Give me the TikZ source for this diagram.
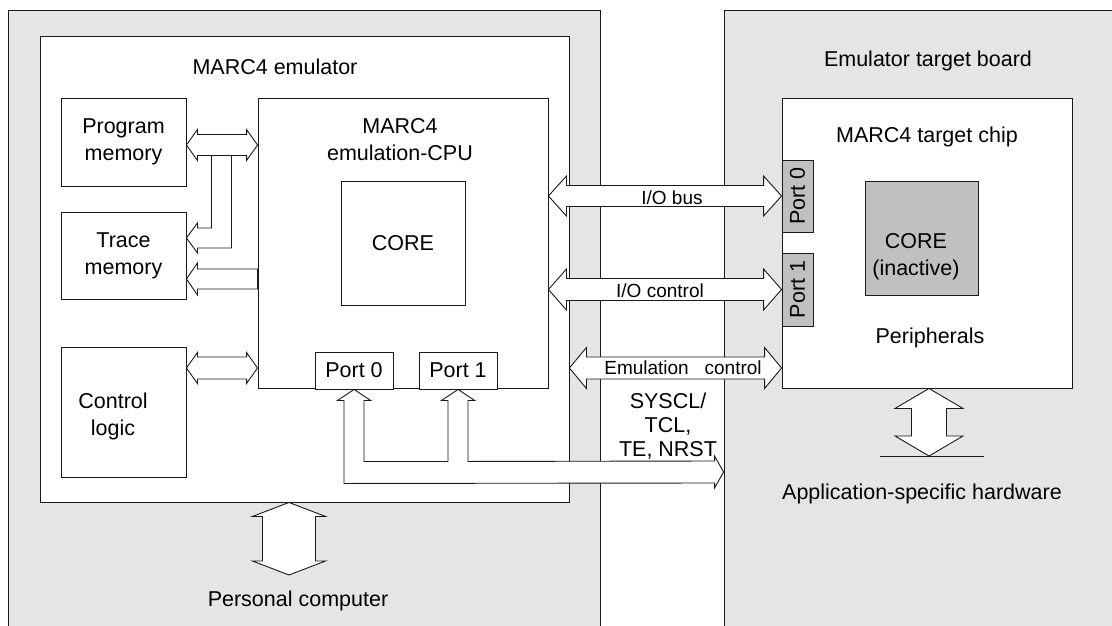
\documentclass[tikz,border=0pt]{standalone}
\usepackage{fontspec}
\setmainfont{Liberation Sans}
\usetikzlibrary{calc}
\definecolor{Ink}{HTML}{1A1A1A}
\definecolor{Panel}{HTML}{E5E5E5}
\definecolor{Chip}{HTML}{C0C0C0}
\tikzset{
  panel/.style={rectangle,draw=Ink,fill=Panel,line width=.9pt,inner sep=0pt},
  blk/.style={rectangle,draw=Ink,fill=white,line width=.9pt,inner sep=0pt,font=\fontsize{21.5}{27}\selectfont,align=center},
  greyblk/.style={blk,fill=Chip},
  bus/.style={draw=Ink,fill=white,line width=.9pt,line join=miter},
  txt/.style={font=\fontsize{21.5}{27}\selectfont,align=center,inner sep=0pt},
  tighttxt/.style={txt,font=\fontsize{21.5}{24}\selectfont},
  buslab/.style={font=\fontsize{19}{23}\selectfont,inner sep=0pt}
}
% double block arrow, left/right end, half body, half head, head length
\newcommand\hbus[5]{\draw[bus] (#1) -- ($(#1)+(#5,-#4)$) -- ($(#1)+(#5,-#3)$) -- ($(#2)+(-#5,-#3)$) -- ($(#2)+(-#5,-#4)$) -- (#2) -- ($(#2)+(-#5,#4)$) -- ($(#2)+(-#5,#3)$) -- ($(#1)+(#5,#3)$) -- ($(#1)+(#5,#4)$) -- cycle;}
% same, upper/lower end
\newcommand\vbus[5]{\draw[bus] (#1) -- ($(#1)+(-#4,#5)$) -- ($(#1)+(-#3,#5)$) -- ($(#2)+(-#3,-#5)$) -- ($(#2)+(-#4,-#5)$) -- (#2) -- ($(#2)+(#4,-#5)$) -- ($(#2)+(#3,-#5)$) -- ($(#1)+(#3,#5)$) -- ($(#1)+(#4,#5)$) -- cycle;}

\begin{document}
\begin{tikzpicture}[x=1pt,y=-1pt]
\useasboundingbox (0,0) rectangle (1112,625);
\clip (0,0) rectangle (1112,625);

% boards
\node[panel,minimum width=592pt,minimum height=630pt] (pcpanel) at (304,325) {};
\node[panel,minimum width=406pt,minimum height=630pt] (brdpanel) at (927,325) {};

% emulator
\node[blk,minimum width=529pt,minimum height=466pt] (emu) at (304.5,269) {};
\node[blk,minimum width=125pt,minimum height=88pt] (prog) at (123.5,142) {Program\\memory};
\node[blk,minimum width=125pt,minimum height=87pt] (trace) at (123.5,255.5) {Trace\\memory};
\node[blk,minimum width=125pt,minimum height=130pt] (ctrl) at (123.5,412) {};
\node[blk,minimum width=290pt,minimum height=290pt] (cpu) at (403,243) {};
\node[blk,minimum width=124pt,minimum height=124pt] (core) at (403,243) {CORE};
\node[blk,minimum width=78pt,minimum height=37pt] (p0) at (354,370.5) {Port 0};
\node[blk,minimum width=78pt,minimum height=37pt] (p1) at (458,370.5) {Port 1};

% target board
\node[blk,minimum width=290pt,minimum height=290pt] (chip) at (927,243) {};
\node[greyblk,rotate=90,minimum width=72pt,minimum height=31pt] (tp0) at (797.5,196) {Port 0};
\node[greyblk,rotate=90,minimum width=73pt,minimum height=31pt] (tp1) at (797.5,289.5) {Port 1};
\node[greyblk,minimum width=113pt,minimum height=114pt] (tcore) at (921.5,238) {};

% coordinates for the buses
\coordinate (yprog) at (0,145);
\coordinate (ybr) at (0,238);
\coordinate (ytr) at (0,279);
\coordinate (yctl) at (0,368);
\coordinate (ysys) at (0,472);
\coordinate (prA) at (prog.east |- yprog);
\coordinate (prB) at (cpu.west |- yprog);
\coordinate (brA) at (trace.east |- ybr);
\coordinate (tdA) at (trace.east |- ytr);
\coordinate (tdB) at (cpu.west |- ytr);
\coordinate (ctA) at (ctrl.east |- yctl);
\coordinate (ctB) at (cpu.west |- yctl);
\coordinate (iobA) at (cpu.east |- tp0.north);
\coordinate (iocA) at (cpu.east |- tp1.north);
\coordinate (ecA) at (emu.east |- yctl);
\coordinate (ecB) at (chip.west |- yctl);
\coordinate (sysB) at (brdpanel.west |- ysys);
\coordinate (pcB) at (289,575);
\coordinate (pcA) at (emu.south -| pcB);
\coordinate (hwB) at (929,456);
\coordinate (hwA) at (chip.south -| hwB);

% buses inside the emulator
\draw[bus] (brA) -- ++(11,-15) -- ++(0,5) -- ++(14,0) -- ($(prA)+(25,10)$) -- ($(prA)+(45,10)$) -- ($(brA)+(45,10)$) -- ++(-34,0) -- ++(0,5) -- cycle;
\hbus{prA}{prB}{10.5}{15.5}{11}
\draw[bus] (tdA) -- ++(11,-16) -- ++(0,6) -- ($(tdB)+(0,-10)$) -- ($(tdB)+(0,10)$) -- ($(tdA)+(11,10)$) -- ++(0,6) -- cycle;
\hbus{ctA}{ctB}{11}{15.5}{11}

% buses to the target board
\hbus{iobA}{tp0.north}{10.5}{20}{18}
\hbus{iocA}{tp1.north}{11}{20.5}{18}
\hbus{ecA}{ecB}{11}{20.5}{17}
\draw[bus] (p0.south) -- ++(16.5,11) -- ++(-6.5,0) -- ($(p0.south)+(10,72)$) -- ($(p1.south)+(-10,72)$) -- ($(p1.south)+(-10,11)$) -- ++(-6.5,0) -- (p1.south) -- ++(16.5,11) -- ++(-6.5,0) -- ($(p1.south)+(10,72)$) -- ($(sysB)+(-9,-11)$) -- ++(0,-5) -- (sysB) -- ($(sysB)+(-9,16)$) -- ++(0,-5) -- ($(p0.south)+(-10,94)$) -- ($(p0.south)+(-10,11)$) -- ++(-6.5,0) -- cycle;

% to PC and hardware
\vbus{pcA}{pcB}{26.5}{36.5}{14}
\vbus{hwA}{hwB}{17.5}{34}{20}
\draw[line width=.9pt,draw=Ink] ($(hwB)+(-49,0)$) -- ($(hwB)+(55,0)$);

% texts
\node[txt] (emulab) at (275,67) {MARC4 emulator};
\node[txt] (cpulab) at (400,140) {MARC4\\emulation-CPU};
\node[txt] (ctrllab) at (113,416) {Control\\logic};
\node[txt] (pclab) at (298,601) {Personal computer};
\node[txt] (brdlab) at (928,61) {Emulator target board};
\node[txt] (chiplab) at (927,137) {MARC4 target chip};
\node[txt] (tcorelab) at (916,257) {CORE\\(inactive)};
\node[txt] (perilab) at (930,338) {Peripherals};
\node[txt] (hwlab) at (922,494) {Application-specific hardware};
\node[tighttxt] (syslab) at (668,426) {SYSCL/\\TCL,\\TE, NRST};
\node[buslab] (ioblab) at (672,198) {I/O bus};
\node[buslab] (ioclab) at (660,291) {I/O control};
\node[buslab] (eclab) at (683,368) {Emulation~~~control};
\end{tikzpicture}
\end{document}
